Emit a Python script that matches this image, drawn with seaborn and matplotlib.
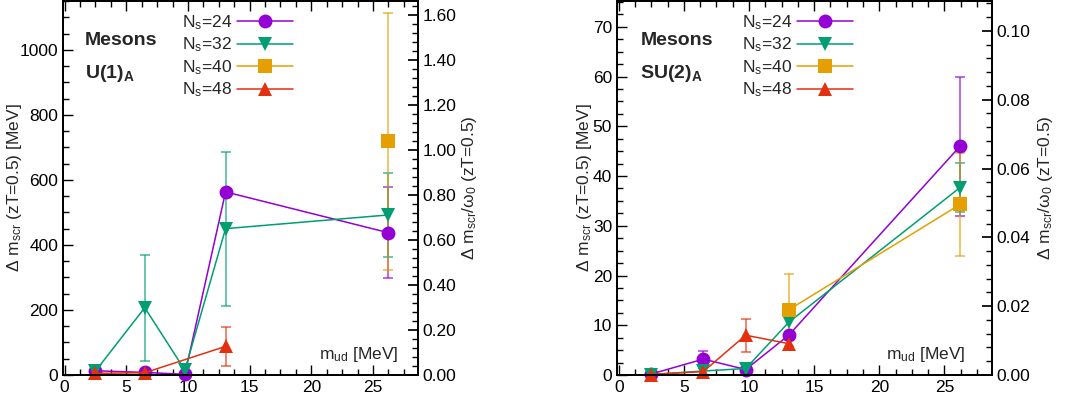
import numpy as np
import pandas as pd
import seaborn as sns
import matplotlib.pyplot as plt
from matplotlib.ticker import MultipleLocator, FormatStrFormatter

# quark mass points [MeV]
m_ud = [2.5, 6.5, 9.75, 13.05, 26.2]
ns_labels = ['24', '32', '40', '48']
omega0 = 692.0   # MeV, conversion for the right-hand axis

# U(1)_A splitting [MeV] (nan = no point)
u1_ns24 = [13, 8, 2, 563, 438]
u1_ns24_err = [0, 0, 0, 0, 140]
u1_ns32 = [12, 207, 15, 450, 492]
u1_ns32_err = [0, 163, 0, 237, 129]
u1_ns40 = [np.nan, np.nan, np.nan, np.nan, 718]
u1_ns40_err = [0, 0, 0, 0, 394]
u1_ns48 = [5, 7, np.nan, 88, np.nan]
u1_ns48_err = [0, 0, 0, 60, 0]

# SU(2)_A splitting [MeV]
su2_ns24 = [0.2, 3.2, 1.1, 8.0, 46.0]
su2_ns24_err = [0, 1.7, 0, 0, 14.0]
su2_ns32 = [0.1, 0.8, 1.3, 10.6, 37.7]
su2_ns32_err = [0, 0, 0, 0, 4.9]
su2_ns40 = [np.nan, np.nan, np.nan, 13.1, 34.3]
su2_ns40_err = [0, 0, 0, 7.3, 10.3]
su2_ns48 = [0.1, 0.7, 8.0, 6.3, np.nan]
su2_ns48_err = [0, 0, 3.3, 0.8, 0]

colors = ['#9400D3', '#009E73', '#E69F00', '#E3300F']
markers = ['o', 'v', 's', '^']

sns.set_theme(style='ticks')
plt.rcParams['font.family'] = ['Liberation Sans', 'DejaVu Sans']
plt.rcParams['mathtext.fontset'] = 'custom'
plt.rcParams['mathtext.rm'] = 'Liberation Sans'
plt.rcParams['mathtext.it'] = 'Liberation Sans:italic'
plt.rcParams['mathtext.bf'] = 'Liberation Sans:bold'
plt.rcParams['mathtext.default'] = 'regular'


def make_df(series, errs):
    rows = []
    for lab, vals, err in zip(ns_labels, series, errs):
        for x, y, e in zip(m_ud, vals, err):
            rows.append({'m_ud': x, 'dm': y, 'err': e, 'Ns': 'N$_s$=' + lab})
    return pd.DataFrame(rows)


def panel(ax, df, ymax, title, yminor, ymajor, rmajor, rminor, mud_x, ylab_x):
    hue_order = ['N$_s$=' + l for l in ns_labels]
    pal = dict(zip(hue_order, colors))
    mk = dict(zip(hue_order, markers))
    sns.lineplot(data=df, x='m_ud', y='dm', hue='Ns', style='Ns', hue_order=hue_order,
                 style_order=hue_order, palette=pal, markers=mk, dashes=False,
                 markersize=10, markeredgewidth=0, linewidth=1.1, sort=True, ax=ax)
    for line in ax.get_lines():
        line.set_clip_on(False)
    # error bars
    for lab in hue_order:
        sub = df[(df.Ns == lab) & (df.err > 0) & df.dm.notna()]
        if len(sub):
            ax.errorbar(sub.m_ud, sub.dm, yerr=sub.err, fmt='none', ecolor=pal[lab],
                        alpha=0.75, elinewidth=1.1, capsize=3.5, capthick=1.1, zorder=1)
    handles, labels = ax.get_legend_handles_labels()
    ax.legend(handles, labels, loc='upper left', bbox_to_anchor=(0.30, 1.0),
              frameon=False, markerfirst=False, fontsize=12.5, handlelength=3.2,
              handletextpad=0.3, labelspacing=0.22, borderaxespad=0.3)

    ax.set_xlim(-0.13, 28.65)
    ax.set_ylim(0, ymax)
    ax.xaxis.set_major_locator(MultipleLocator(5))
    ax.xaxis.set_minor_locator(MultipleLocator(1.25))
    ax.yaxis.set_major_locator(MultipleLocator(ymajor))
    ax.yaxis.set_minor_locator(MultipleLocator(yminor))
    ax.tick_params(which='both', direction='in', top=True, right=False,
                   labelsize=12.5, width=1.0, colors='black')
    ax.tick_params(which='major', length=7)
    ax.tick_params(which='minor', length=4)
    ax.set_xlabel('')
    ax.set_ylabel('Δ m$_{scr}$ (zT=0.5) [MeV]', fontsize=12.5)
    ax.yaxis.set_label_coords(ylab_x, 0.5)
    for s in ax.spines.values():
        s.set_linewidth(1.3)
        s.set_color('black')

    ax.text(0.062, 0.895, 'Mesons', transform=ax.transAxes, fontsize=14,
            fontweight='bold', va='center', ha='left')
    ax.text(0.062, 0.805, title, transform=ax.transAxes, fontsize=14,
            fontweight='bold', va='center', ha='left')
    ax.text(mud_x, 0.055, 'm$_{ud}$ [MeV]', transform=ax.transAxes, fontsize=12.5,
            ha='right', va='center')

    axr = ax.twinx()
    axr.set_ylim(0, ymax / omega0)
    axr.yaxis.set_major_locator(MultipleLocator(rmajor))
    axr.yaxis.set_minor_locator(MultipleLocator(rminor))
    axr.yaxis.set_major_formatter(FormatStrFormatter('%.2f'))
    axr.tick_params(which='both', direction='in', labelsize=12.5, colors='black')
    axr.tick_params(which='major', length=7)
    axr.tick_params(which='minor', length=4)
    axr.set_ylabel('Δ m$_{scr}$/ω$_0$ (zT=0.5)', fontsize=12.5)
    axr.yaxis.set_label_coords(1.118, 0.5)
    for s in axr.spines.values():
        s.set_linewidth(1.3)
        s.set_color('black')


fig = plt.figure(figsize=(10.7, 4.03), dpi=100)
ax1 = fig.add_axes([63 / 1070, 1 - 375 / 403, 355 / 1070, 374 / 403])
ax2 = fig.add_axes([617 / 1070, 1 - 375 / 403, 375 / 1070, 374 / 403])

df_u1 = make_df([u1_ns24, u1_ns32, u1_ns40, u1_ns48],
                [u1_ns24_err, u1_ns32_err, u1_ns40_err, u1_ns48_err])
df_su2 = make_df([su2_ns24, su2_ns32, su2_ns40, su2_ns48],
                 [su2_ns24_err, su2_ns32_err, su2_ns40_err, su2_ns48_err])

panel(ax1, df_u1, 1150, 'U(1)$_\\mathbf{A}$', 50, 200, 0.2, 0.04, 0.945, -0.11)
panel(ax2, df_su2, 75.2, 'SU(2)$_\\mathbf{A}$', 2.5, 10, 0.02, 0.004, 0.93, -0.06)

fig.savefig('out.png', dpi=100)
